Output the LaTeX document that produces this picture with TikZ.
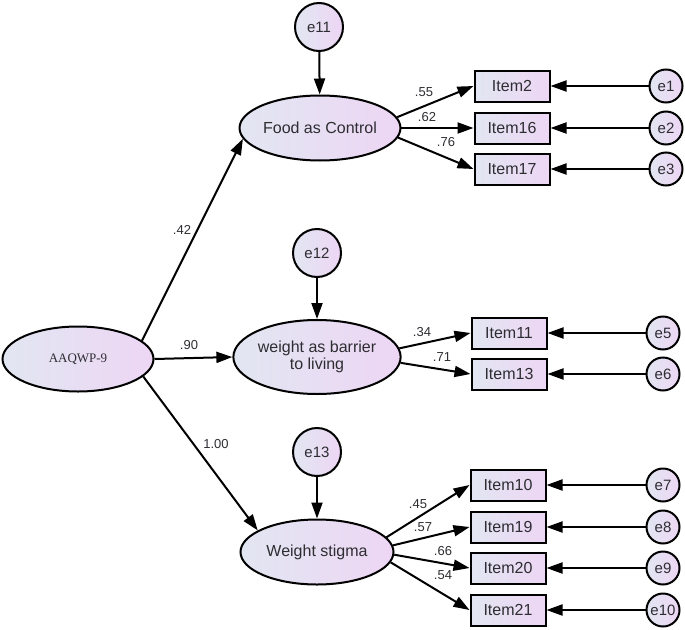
\documentclass[tikz,border=0pt]{standalone}
\usepackage{fontspec}
\setmainfont{Liberation Sans}
\newfontfamily\serifx{Liberation Serif}
\usetikzlibrary{shapes.geometric,arrows.meta}
\definecolor{gl}{RGB}{226,230,242}
\definecolor{gr}{RGB}{237,214,244}
\definecolor{tx}{RGB}{45,45,50}
\tikzset{
  base/.style={draw=black,line width=2pt,left color=gl,right color=gr,text=tx,inner sep=0pt},
  latent/.style={base,ellipse,minimum width=153pt,minimum height=65pt,font=\fontsize{16}{17}\selectfont,align=center},
  err/.style={base,circle,minimum size=48pt,font=\fontsize{15}{16}\selectfont},
  erS/.style={base,circle,minimum size=33pt,font=\fontsize{15}{16}\selectfont},
  itembox/.style={base,rectangle,minimum width=75pt,minimum height=31pt,font=\fontsize{16}{17}\selectfont},
  arr/.style={line width=2pt,-{Triangle[length=16pt,width=11pt]}},
  coef/.style={font=\fontsize{13}{14}\selectfont,text=tx,inner sep=0pt}
}
\begin{document}
\begin{tikzpicture}[x=1pt,y=-1pt]
\useasboundingbox (0,0) rectangle (685,629);
% latent variables
\node[latent,minimum width=151pt] (aaq) at (78,359) {\serifx\fontsize{13}{14}\selectfont AAQWP-9};
\node[latent] (fac) at (320,128) {Food as Control};
\node[latent,minimum height=74pt] (wab) at (317,357) {weight as barrier\\to living};
\node[latent] (ws) at (317,552) {Weight stigma};
% disturbances
\node[err] (e11) at (319,27) {e11};
\node[err] (e12) at (317,253) {e12};
\node[err] (e13) at (317,452) {e13};
% items
\node[itembox] (i2) at (512,86) {Item2};
\node[itembox] (i16) at (512,128) {Item16};
\node[itembox] (i17) at (512,169) {Item17};
\node[itembox] (i11) at (509,333) {Item11};
\node[itembox] (i13) at (509,374) {Item13};
\node[itembox] (i10) at (508,485) {Item10};
\node[itembox] (i19) at (508,527) {Item19};
\node[itembox] (i20) at (508,568) {Item20};
\node[itembox] (i21) at (508,610) {Item21};
% errors
\node[erS] (e1) at (666,86) {e1};
\node[erS] (e2) at (666,128) {e2};
\node[erS] (e3) at (666,169) {e3};
\node[erS] (e5) at (663,333) {e5};
\node[erS] (e6) at (663,374) {e6};
\node[erS] (e7) at (663,485) {e7};
\node[erS] (e8) at (663,527) {e8};
\node[erS] (e9) at (663,568) {e9};
\node[erS] (e10) at (663,610) {e10};
% structural paths
\draw[arr] (aaq.16) -- (fac.188);
\draw[arr] (aaq.east) -- (wab.west);
\draw[arr] (aaq.-15) -- (ws.160);
\draw[arr] (e11) -- (fac);
\draw[arr] (e12) -- (wab);
\draw[arr] (e13) -- (ws);
% loadings
\draw[arr] (fac.8) -- (i2.west);
\draw[arr] (fac.east) -- (i16.west);
\draw[arr] (fac.-7) -- (i17.west);
\draw[arr] (wab.6) -- (i11.west);
\draw[arr] (wab.-4) -- (i13.west);
\draw[arr] (ws.12) -- (i10.west);
\draw[arr] (ws.5) -- (i19.west);
\draw[arr] (ws.-2) -- (i20.west);
\draw[arr] (ws.-8) -- (i21.west);
% item errors
\foreach \e/\i in {e1/i2,e2/i16,e3/i17,e5/i11,e6/i13,e7/i10,e8/i19,e9/i20,e10/i21}
  \draw[arr] (\e) -- (\i.east);
% coefficients
\node[coef] (c42) at (182,230) {.42};
\node[coef] (c90) at (189,345) {.90};
\node[coef] (c100) at (216,444) {1.00};
\node[coef] (c55) at (424,92) {.55};
\node[coef] (c62) at (427,117) {.62};
\node[coef] (c76) at (446,142) {.76};
\node[coef] (c34) at (422,332) {.34};
\node[coef] (c71) at (442,357) {.71};
\node[coef] (c45) at (418,504) {.45};
\node[coef] (c57) at (423,527) {.57};
\node[coef] (c66) at (443,551) {.66};
\node[coef] (c54) at (443,575) {.54};
\end{tikzpicture}
\end{document}
